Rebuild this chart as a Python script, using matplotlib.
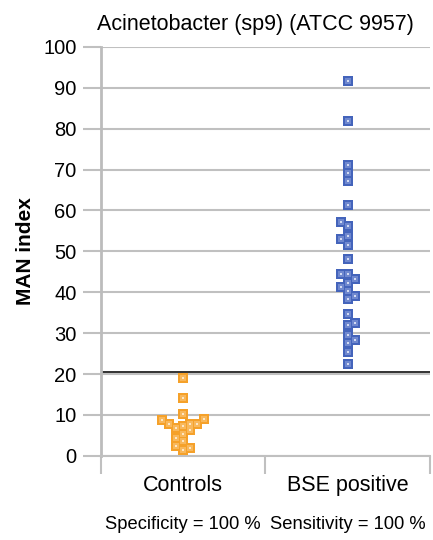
import numpy as np
import matplotlib.pyplot as plt

plt.rcParams['font.family'] = ['Liberation Sans', 'DejaVu Sans']

# Category labels and summary text
categories = ['Controls', 'BSE positive']
summary = ['Specificity = 100 %', 'Sensitivity = 100 %']
cutoff = 20.5

# MAN index values with their column slot in the dot plot (0 = centre)
controls_vals = [19.1, 14.1, 10.2, 8.7, 9.0, 7.7, 6.8, 7.4, 7.8, 7.8, 6.3,
                 5.4, 4.3, 3.5, 2.4, 1.4, 1.9]
controls_slot = [0, 0, 0, -3, 3, -2, -1, 0, 1, 2, 1,
                 0, -1, 0, -1, 0, 1]

bse_vals = [91.6, 81.9, 71.1, 69.1, 67.3, 61.4, 57.1, 56.1, 53.8, 53.0,
            51.6, 48.2, 44.5, 44.5, 43.3, 42.2, 41.4, 40.3, 39.0, 38.4,
            34.6, 32.0, 32.4, 29.6, 28.4, 27.5, 25.5, 22.4]
bse_slot = [0, 0, 0, 0, 0, 0, -1, 0, 0, -1,
            0, 0, -1, 0, 1, 0, -1, 0, 1, 0,
            0, 0, 1, 0, 1, 0, 0, 0]

fig = plt.figure(figsize=(4.33, 5.4), dpi=100)
ax = fig.add_axes([0.233, 0.156, 0.76, 0.757])

step = 0.042
grid_col = '#c0c0c0'

# squares drawn in three layers to get the soft, lighter centre
for i, (vals, slots, cols) in enumerate([
        (controls_vals, controls_slot, ['#f5a12a', '#f8b85c', '#fde6c4']),
        (bse_vals, bse_slot, ['#4464bb', '#6f88cf', '#d2dbf3'])]):
    xs = i + np.array(slots) * step
    for size, c, z in zip([50, 14, 4], cols, [3, 4, 5]):
        ax.scatter(xs, vals, marker='s', s=size, color=c, linewidths=0, zorder=z)

ax.axhline(cutoff, color='#222222', lw=1.3, zorder=2)

ax.set_xlim(-0.5, 1.5)
ax.set_ylim(0, 100)
ax.set_yticks(np.arange(0, 101, 10))
ax.yaxis.grid(True, color=grid_col, lw=1.5)
ax.set_axisbelow(True)

ax.set_xticks([-0.5, 0.5, 1.5])
ax.set_xticklabels([])
ax.set_xticks([0, 1], minor=True)
ax.set_xticklabels(categories, minor=True, fontsize=15.5)
ax.tick_params(axis='x', which='major', length=13, width=1.5, color=grid_col)
ax.tick_params(axis='x', which='minor', length=0, pad=14)
ax.tick_params(axis='y', length=13, width=1.5, color=grid_col, labelsize=14.5, pad=4.5)

for side in ['top', 'right']:
    ax.spines[side].set_visible(False)
ax.spines['left'].set_color('#bcbcbc')
ax.spines['left'].set_linewidth(2)
ax.spines['bottom'].set_color(grid_col)
ax.spines['bottom'].set_linewidth(1.5)

ax.set_title('Acinetobacter (sp9) (ATCC 9957)', fontsize=15.5, pad=12, x=0.47)
ax.set_ylabel('MAN index', fontsize=15, fontweight='bold', labelpad=6)

for i, txt in enumerate(summary):
    ax.text(i, -0.168, txt, transform=ax.get_xaxis_transform(),
            ha='center', va='center', fontsize=13.2)

fig.savefig('out.png', dpi=100)
